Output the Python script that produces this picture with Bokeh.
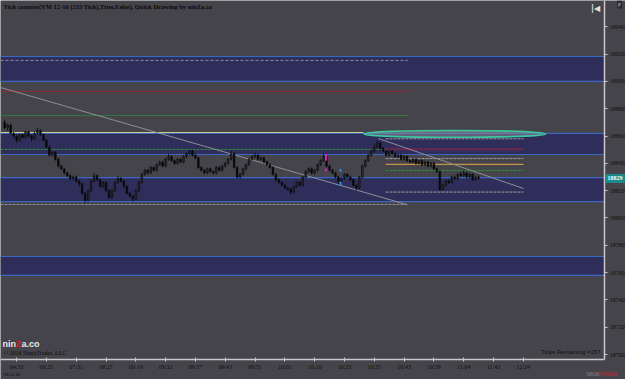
from bokeh.plotting import figure
from bokeh.models import Range1d, FixedTicker, Label
from bokeh.embed import file_html
from bokeh.resources import INLINE

# ---------------- data ----------------
closes = [18866, 18868, 18862, 18860, 18857, 18861, 18859, 18863, 18860, 18858,
          18862, 18864, 18861, 18857, 18852, 18846, 18848, 18843, 18838, 18836,
          18833, 18831, 18829, 18830, 18827, 18825, 18818, 18813, 18820, 18827,
          18831, 18828, 18823, 18826, 18820, 18815, 18820, 18826, 18829, 18827,
          18823, 18818, 18816, 18814, 18820, 18826, 18832, 18835, 18833, 18837,
          18835, 18839, 18841, 18838, 18843, 18845, 18842, 18840, 18843, 18841,
          18845, 18847, 18849, 18846, 18844, 18837, 18835, 18833, 18836, 18834,
          18833, 18837, 18835, 18838, 18840, 18843, 18847, 18837, 18830, 18832,
          18836, 18839, 18843, 18845, 18846, 18843, 18844, 18841, 18839, 18837,
          18832, 18828, 18826, 18824, 18822, 18821, 18819, 18823, 18826, 18824,
          18830, 18834, 18836, 18833, 18835, 18839, 18842, 18845, 18838, 18835,
          18833, 18830, 18827, 18829, 18832, 18830, 18828, 18824, 18822, 18830,
          18838, 18842, 18846, 18849, 18852, 18855, 18851, 18849, 18846, 18849,
          18847, 18845, 18846, 18843, 18845, 18842, 18841, 18843, 18840, 18842,
          18839, 18841, 18838, 18840, 18836, 18834, 18821, 18824, 18827, 18826,
          18830, 18829, 18832, 18831, 18833, 18830, 18832, 18828, 18830, 18829]
highs = [18872, 18869, 18869, 18863, 18861, 18862, 18862, 18864, 18864, 18861,
         18863, 18866, 18865, 18862, 18858, 18853, 18849, 18849, 18844, 18839,
         18837, 18834, 18832, 18831, 18831, 18828, 18826, 18819, 18821, 18828,
         18833, 18832, 18829, 18827, 18827, 18821, 18821, 18827, 18831, 18830,
         18828, 18824, 18819, 18817, 18821, 18827, 18833, 18836, 18836, 18838,
         18838, 18840, 18842, 18842, 18844, 18847, 18846, 18843, 18844, 18844,
         18846, 18848, 18850, 18850, 18847, 18845, 18838, 18836, 18837, 18837,
         18835, 18838, 18838, 18839, 18841, 18844, 18849, 18848, 18838, 18833,
         18837, 18840, 18844, 18846, 18848, 18847, 18845, 18845, 18842, 18840,
         18838, 18833, 18829, 18827, 18825, 18823, 18822, 18824, 18827, 18827,
         18831, 18835, 18837, 18837, 18836, 18840, 18843, 18847, 18846, 18839,
         18836, 18834, 18831, 18830, 18833, 18833, 18831, 18829, 18825, 18831,
         18839, 18843, 18847, 18850, 18854, 18857, 18856, 18852, 18850, 18850,
         18850, 18848, 18847, 18847, 18846, 18846, 18843, 18844, 18844, 18843,
         18843, 18842, 18842, 18841, 18841, 18837, 18835, 18825, 18828, 18828,
         18831, 18831, 18833, 18834, 18835, 18834, 18833, 18833, 18831, 18831]
lows = [18865, 18864, 18861, 18858, 18855, 18856, 18858, 18858, 18859, 18856,
        18857, 18861, 18860, 18856, 18851, 18845, 18845, 18842, 18837, 18835,
        18832, 18830, 18828, 18828, 18826, 18823, 18817, 18811, 18812, 18819,
        18826, 18827, 18822, 18822, 18819, 18814, 18814, 18819, 18825, 18826,
        18822, 18817, 18815, 18812, 18813, 18819, 18825, 18831, 18832, 18832,
        18834, 18834, 18838, 18837, 18837, 18842, 18841, 18839, 18839, 18840,
        18840, 18844, 18846, 18845, 18843, 18836, 18834, 18832, 18832, 18833,
        18832, 18832, 18834, 18834, 18837, 18839, 18842, 18836, 18829, 18829,
        18831, 18835, 18838, 18842, 18844, 18842, 18842, 18840, 18838, 18836,
        18831, 18827, 18825, 18823, 18821, 18820, 18817, 18818, 18822, 18823,
        18823, 18829, 18833, 18832, 18832, 18834, 18838, 18841, 18837, 18834,
        18832, 18829, 18825, 18826, 18828, 18829, 18827, 18823, 18820, 18821,
        18829, 18837, 18841, 18845, 18848, 18851, 18850, 18848, 18845, 18845,
        18846, 18844, 18844, 18842, 18842, 18841, 18840, 18840, 18839, 18839,
        18838, 18838, 18837, 18837, 18835, 18833, 18820, 18820, 18823, 18825,
        18825, 18828, 18828, 18830, 18830, 18829, 18829, 18827, 18827, 18828]
first_open = 18870

time_labels = ["04:33", "06:25", "07:31", "08:27", "09:19", "09:32", "09:37", "09:43",
               "09:51", "10:01", "10:10", "10:23", "10:35", "10:43", "10:59", "11:04",
               "11:42", "12:24"]
time_label_bars = [4, 14, 24, 34, 44, 54, 64, 74, 84, 94, 104, 114, 124, 134, 144, 154, 164, 174]
price_ticks = [18700, 18720, 18740, 18760, 18780, 18800, 18820, 18840, 18860, 18880, 18900, 18920, 18940]

# supply / demand zones (price bottom, price top)
zone_bottoms = [18900.0, 18846.5, 18812.0, 18758.0]
zone_tops = [18918.3, 18862.0, 18829.5, 18771.8]

# left-hand horizontal levels (ending at bar ~135)
grey_level = 18915.4
red_level = 18892.7
green_levels = [18875.1, 18850.2]
yellow_level = 18862.6
lower_grey_level = 18809.9

# right-hand levels (bars ~128..174)
r_grey_levels = [18858.0, 18843.5, 18819.0]
r_maroon_level = 18850.3
r_orange_level = 18839.3
r_green_level = 18834.8

# trend lines (bar, price)
trend1_x = [-1.4, 134.8]
trend1_y = [18895.6, 18809.9]
trend2_x = [125.4, 174.1]
trend2_y = [18858.2, 18821.6]

# highlight ellipse
ell_x, ell_y, ell_w, ell_h = 151.0, 18861.6, 61.0, 5.0

# marker ticks (bar, price low, price high)
magenta_marks = [(107.8, 18842.0, 18846.5), (107.8, 18834.0, 18836.0)]
blue_marks = [(112.7, 18833.8, 18835.8), (112.7, 18823.5, 18826.5)]

last_price = 18829
ticks_remaining = 157

# chart panel extent (bars, price) – right price scale & time scale sit at its edges
X0, X1 = -1.4, 201.3
Y0, Y1 = 18696.3, 18959.3

# ---------------- figure ----------------
BG = "#45444a"
p = figure(width=625, height=379, x_range=Range1d(X0, 208.3),
           y_range=Range1d(18681.7, Y1), y_axis_location="right",
           output_backend="svg", toolbar_location=None,
           min_border_left=0, min_border_top=0, min_border_right=0, min_border_bottom=0)
p.background_fill_color = BG
p.border_fill_color = BG
p.outline_line_color = None
p.grid.visible = False

# zones
p.quad(left=[X0] * 4, right=[X1] * 4, bottom=zone_bottoms, top=zone_tops,
       fill_color="#2f2e5a", line_color=None)
zl = zone_bottoms + zone_tops
p.segment(x0=[X0] * len(zl), x1=[X1] * len(zl), y0=zl, y1=zl, line_color="#3a68c0",
          line_width=1.2)

xl, xr = X0, 135.2
p.segment(x0=[xl], x1=[xr], y0=[grey_level], y1=[grey_level], line_color="#8c8ca6",
          line_dash="3 2", line_width=1)
p.segment(x0=[xl], x1=[xr], y0=[red_level], y1=[red_level], line_color="#8e2b3c", line_width=1)
p.segment(x0=[xl] * 2, x1=[xr] * 2, y0=green_levels, y1=green_levels, line_color="#2f8a3c",
          line_dash="3 1", line_width=1)
p.segment(x0=[xl], x1=[120.4], y0=[yellow_level], y1=[yellow_level], line_color="#c8d08a",
          line_width=1.2)
p.segment(x0=[xl], x1=[xr], y0=[lower_grey_level], y1=[lower_grey_level], line_color="#8c8c94",
          line_dash="3 1", line_width=1)

rl, rr = 127.8, 174.1
p.segment(x0=[rl] * 3, x1=[rr] * 3, y0=r_grey_levels, y1=r_grey_levels, line_color="#9a9aa2",
          line_dash="3 1", line_width=1)
p.segment(x0=[rl], x1=[rr], y0=[r_maroon_level], y1=[r_maroon_level], line_color="#6e2650",
          line_width=2)
p.segment(x0=[rl], x1=[rr], y0=[r_orange_level], y1=[r_orange_level], line_color="#c8924c",
          line_width=1.2)
p.segment(x0=[rl], x1=[rr], y0=[r_green_level], y1=[r_green_level], line_color="#2f8a3c",
          line_dash="3 1", line_width=1)

p.line(trend1_x, trend1_y, line_color="#8e8e96", line_width=1)
p.line(trend2_x, trend2_y, line_color="#8e8e96", line_width=1)

# candles
n = len(closes)
xs = list(range(n))
opens = [first_open] + closes[:-1]
up_x = [x for x, o, c in zip(xs, opens, closes) if c >= o]
up_t = [c for o, c in zip(opens, closes) if c >= o]
up_b = [o for o, c in zip(opens, closes) if c >= o]
dn_x = [x for x, o, c in zip(xs, opens, closes) if c < o]
dn_t = [o for o, c in zip(opens, closes) if c < o]
dn_b = [c for o, c in zip(opens, closes) if c < o]
p.segment(x0=xs, x1=xs, y0=lows, y1=highs, line_color="#0a0a0a", line_width=0.8)
p.vbar(x=up_x, width=0.55, top=up_t, bottom=up_b, fill_color="#2c2c34", line_color="#0a0a0a",
       line_width=0.6)
p.vbar(x=dn_x, width=0.55, top=dn_t, bottom=dn_b, fill_color="#0a0a0a", line_color="#0a0a0a",
       line_width=0.6)

# markers
p.segment(x0=[m[0] for m in magenta_marks], x1=[m[0] for m in magenta_marks],
          y0=[m[1] for m in magenta_marks], y1=[m[2] for m in magenta_marks],
          line_color="#e020c8", line_width=2)
p.segment(x0=[m[0] for m in blue_marks], x1=[m[0] for m in blue_marks],
          y0=[m[1] for m in blue_marks], y1=[m[2] for m in blue_marks],
          line_color="#2f8fe0", line_width=2)

# ellipse
p.ellipse(x=[ell_x], y=[ell_y], width=ell_w, height=ell_h, fill_color="#8a8a98",
          fill_alpha=0.55, line_color="#3cc8a0", line_width=1.5)

# axes (placed at the chart panel's edges)
for ax in (p.xaxis[0], p.yaxis[0]):
    ax.axis_line_color = "#c8c8cc"
    ax.axis_line_width = 1.5
    ax.major_tick_line_color = "#c8c8cc"
    ax.minor_tick_line_color = None
    ax.major_label_text_color = "#101010"
    ax.major_label_text_font = "Liberation Serif"
    ax.major_label_text_font_size = "6px"

p.yaxis.ticker = FixedTicker(ticks=price_ticks)
p.yaxis.fixed_location = X1
p.yaxis.bounds = (Y0, Y1)
p.yaxis.major_tick_in = 0
p.yaxis.major_tick_out = 3
p.yaxis.major_label_standoff = 2

p.xaxis.ticker = FixedTicker(ticks=time_label_bars)
p.xaxis.major_label_overrides = {b: t for b, t in zip(time_label_bars, time_labels)}
p.xaxis.fixed_location = Y0
p.xaxis.bounds = (X0, X1)
p.xaxis.major_tick_in = 2
p.xaxis.major_tick_out = 2
p.xaxis.major_label_standoff = 2

# texts
p.add_layout(Label(x=3, y=373, x_units="screen", y_units="screen",
                   text="Tick counter(YM 12-16 (233 Tick),True,False), Quick Drawing by ninZa.co",
                   text_font="Liberation Serif", text_font_size="6.5px", text_color="#0a0a0a",
                   text_font_style="bold", text_baseline="middle"))
p.add_layout(Label(x=2, y=36, x_units="screen", y_units="screen", text="nin",
                   text_font="Liberation Sans", text_font_size="9px", text_font_style="bold",
                   text_color="#e8e8e8", text_baseline="middle"))
p.add_layout(Label(x=15, y=36, x_units="screen", y_units="screen", text="Z",
                   text_font="Liberation Sans", text_font_size="9px", text_font_style="bold",
                   text_color="#e01818", text_baseline="middle"))
p.add_layout(Label(x=21, y=36, x_units="screen", y_units="screen", text="a.co",
                   text_font="Liberation Sans", text_font_size="9px", text_font_style="bold",
                   text_color="#e8e8e8", text_baseline="middle"))
p.add_layout(Label(x=3, y=27, x_units="screen", y_units="screen",
                   text="© 2016 NinjaTrader, LLC", text_font="Liberation Serif",
                   text_font_size="6px", text_color="#0a0a0a", text_baseline="middle"))
p.add_layout(Label(x=600, y=28, x_units="screen", y_units="screen",
                   text=f"Ticks Remaining ={ticks_remaining}", text_font="Liberation Sans",
                   text_font_size="6px", text_color="#101010", text_align="right",
                   text_baseline="middle"))
p.add_layout(Label(x=605, y=last_price, x_units="screen", y_units="data",
                   text=str(last_price), text_font="Liberation Serif", text_font_size="6px",
                   text_color="#ffffff", text_baseline="middle", text_font_style="bold",
                   background_fill_color="#1b8c8a", background_fill_alpha=1.0,
                   border_line_color="#1b8c8a", padding=2))
p.add_layout(Label(x=2, y=5, x_units="screen", y_units="screen", text="YM 12-16",
                   text_font="Liberation Sans", text_font_size="4px", text_color="#101010",
                   text_baseline="middle"))
p.add_layout(Label(x=586, y=5, x_units="screen", y_units="screen", text="NINJA",
                   text_font="Liberation Sans", text_font_size="4.5px", text_color="#8a8a8e",
                   text_baseline="middle"))
p.add_layout(Label(x=598, y=5, x_units="screen", y_units="screen", text="TRADER",
                   text_font="Liberation Sans", text_font_size="4.5px", text_color="#c0283a",
                   text_baseline="middle"))
p.add_layout(Label(x=595, y=371, x_units="screen", y_units="screen", text="|◀",
                   text_font="DejaVu Sans", text_font_size="8px", text_font_style="bold",
                   text_color="#e0e0e0", text_baseline="middle", text_align="center"))
p.add_layout(Label(x=619, y=375, x_units="screen", y_units="screen", text="F",
                   text_font="DejaVu Sans", text_font_size="5px",
                   text_color="#d0d0d0", text_baseline="middle", text_align="center",
                   background_fill_color="#2a2a2e", padding=1))

open("out.html", "w").write(file_html(p, INLINE))
